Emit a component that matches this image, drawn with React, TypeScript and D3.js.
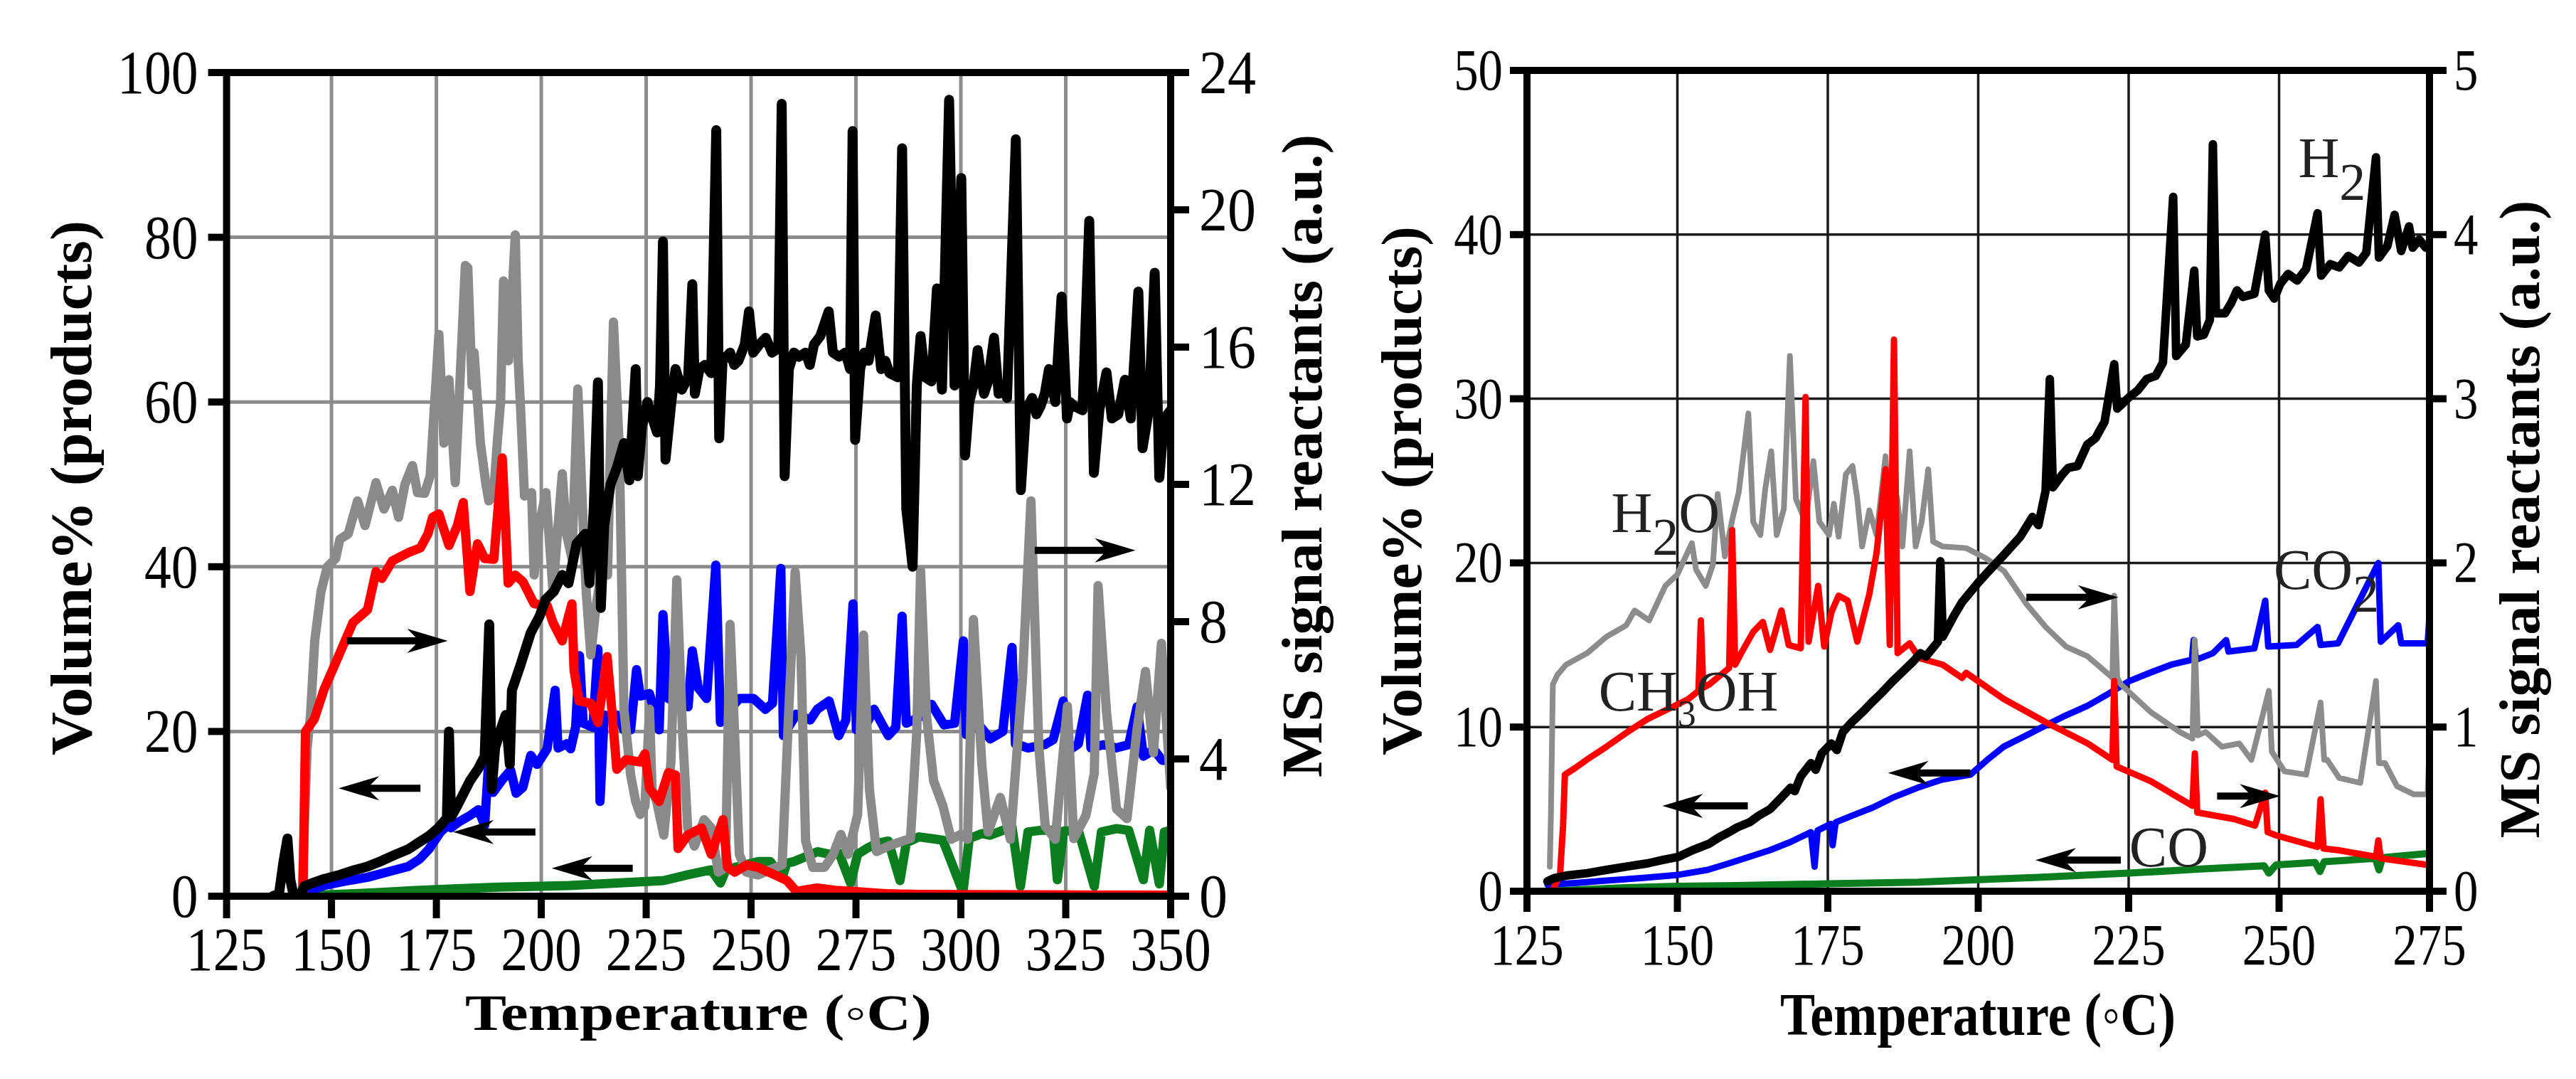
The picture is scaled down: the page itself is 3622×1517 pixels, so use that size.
import React from 'react';
import * as d3 from 'd3';

type Pt = [number, number];

// ---------------- LEFT PANEL DATA ----------------
const L_xTicks = [125, 150, 175, 200, 225, 250, 275, 300, 325, 350];
const L_yLeftTicks = [0, 20, 40, 60, 80, 100];
const L_yRightTicks = [0, 4, 8, 12, 16, 20, 24];
const L_gridX = [150, 175, 200, 225, 250, 275, 300, 325];
const L_gridY = [20, 40, 60, 80];

// black (left axis, vol%)
const L_black: Pt[] = [
  [136, 0], [137.5, 0.3], [138.5, 4], [139.5, 7], [140.2, 2], [141, 0], [142.5, 0], [143.5, 1.2], [146, 1.7],
  [148.3, 2.1], [152, 2.6], [155, 3.1], [158.6, 3.6], [162, 4.3], [165, 5], [168.3, 5.7], [171, 6.6], [173.2, 7.3],
  [175.5, 8.3], [177.5, 9.5], [178, 20], [178.5, 9.6], [180, 11], [183, 14], [185, 15.5], [186.5, 17], [187.6, 33],
  [188.2, 13], [189, 18], [190.5, 20.5], [191.5, 22], [192.5, 16], [193, 25], [195, 28], [197.5, 32], [199.6, 34],
  [201, 36], [203, 37], [205, 39], [206.5, 38], [208.4, 42.8], [210.5, 44], [211.5, 38], [212.5, 47], [213.5, 62.4],
  [214.2, 35], [215, 45], [216.5, 50], [218, 52], [219.7, 55], [221, 50.5], [222.5, 64], [223, 51], [224, 57],
  [225.3, 60], [226.5, 58], [227.6, 56.3], [228.3, 62], [229, 79.5], [229.6, 53], [230.2, 56], [231, 60], [232, 64],
  [233.5, 61.5], [235, 63], [236, 74.3], [236.6, 61], [237.7, 64], [239, 64.5], [240.5, 63.5], [241.7, 93],
  [242.4, 55.6], [243.2, 65], [245, 66], [246, 64.5], [247, 65], [248.5, 67], [249.5, 71], [250.5, 66], [252, 67],
  [253.5, 67.8], [255, 66], [256.5, 66.5], [257.3, 96.2], [258, 51], [259, 64], [260.2, 66], [261.4, 65.5], [263, 66],
  [264, 64.5], [265, 67], [266.5, 68], [268.5, 71], [269.5, 66], [271, 65.5], [272.5, 66], [273.6, 64], [274.2, 92.9],
  [274.8, 55.4], [276, 64], [277, 66], [278, 65], [279.7, 70.5], [281, 64], [282, 65], [283, 63.5], [285, 63],
  [286, 90.8], [287, 47], [288.5, 40], [289.5, 62], [290.4, 68], [291.5, 63], [293, 62.5], [294.3, 73.8], [295.5, 61.5],
  [297.2, 96.7], [298.5, 62], [300.1, 87.2], [301, 53.5], [302, 60], [303, 62], [304, 66.3], [305.5, 61], [306.5, 62.5],
  [307.9, 67.8], [309, 61], [310, 62], [311, 60.5], [313.1, 91.9], [314.3, 49.3], [315.5, 59], [317, 60.5], [318, 58.5],
  [319, 59.5], [320, 61], [321, 64], [322.5, 60], [324, 72.8], [325.3, 58], [326, 60], [327, 59.5], [329, 59],
  [330.6, 82], [331.7, 51.4], [333, 59], [334.7, 63.6], [336, 58], [337.5, 58.5], [339.1, 62.7], [340.5, 58],
  [342.3, 73.4], [343.3, 54.4], [344.8, 59], [346.2, 75.7], [347.3, 50.8], [348.5, 58], [350, 59],
];

// gray (right axis, a.u.)
const L_gray: Pt[] = [
  [143, 0], [143.5, 1.92], [144.2, 4.32], [145, 5.28], [146, 7.44], [147.5, 8.88], [149, 9.6], [151, 9.84], [152, 10.4],
  [154, 10.56], [156.2, 11.52], [158, 10.8], [160.6, 12.05], [162.5, 11.28], [164.5, 11.83], [166, 11.04], [167.5, 12],
  [169.3, 12.55], [170.5, 11.76], [172.2, 11.74], [173.5, 12.24], [175.6, 16.37], [176.8, 13.2], [178, 15.05],
  [179.5, 12.05], [181.9, 18.38], [182.5, 18.31], [183.5, 14.88], [184, 15.84], [185.5, 13.2], [186.8, 12],
  [187.5, 11.52], [188.6, 11.66], [189.5, 13.2], [190.3, 14.4], [191, 17.93], [192.2, 15.6], [193.8, 19.27],
  [194.5, 15.6], [195, 14.4], [196, 11.66], [197.7, 11.76], [198.3, 9.36], [199.5, 10.8], [201.1, 11.76], [202.8, 8.88],
  [204, 10.8], [205, 12.31], [206, 10.56], [207.3, 9.84], [208.7, 14.78], [210, 10.8], [210.7, 8.88], [211.8, 7.03],
  [213, 8.4], [214.5, 9.6], [215.8, 9.36], [216.5, 13.2], [217.2, 16.73], [218.6, 13.06], [219.7, 5.45], [221.3, 3.53],
  [222.5, 2.76], [223.6, 2.38], [224.7, 2.62], [225.8, 5.45], [226.4, 3.12], [227.5, 2.76], [229.2, 1.78], [230.9, 3.91],
  [232.3, 9.22], [233.7, 4.68], [234.9, 1.99], [236.5, 1.46], [238.8, 2.23], [240.5, 1.99], [242.2, 0.7], [243.9, 0.84],
  [245, 7.92], [246.1, 4.68], [247.2, 1.22], [248.9, 0.7], [251.7, 0.62], [254.6, 0.77], [257.4, 0.91], [259, 5.45],
  [260.5, 9.46], [261.9, 6.98], [263, 1.61], [264.7, 0.84], [267.5, 0.84], [269.5, 1.2], [271.4, 1.8], [273.1, 1.22],
  [275.4, 2.38], [276.8, 7.61], [278.2, 3.12], [279.9, 1.3], [282.7, 1.46], [285, 1.56], [288, 1.68], [289.5, 4.8],
  [290.4, 9.5], [291.8, 5.28], [293.5, 3.36], [295.7, 2.64], [297.7, 1.66], [300, 1.8], [301.6, 1.66], [303, 8.06],
  [305, 3.84], [306.5, 1.87], [309.4, 2.88], [311.8, 1.66], [314.7, 6.36], [316.7, 11.52], [318.6, 4.32], [320.1, 2.04],
  [322.5, 1.66], [325.4, 5.54], [326.9, 1.68], [329.8, 2.35], [331.8, 3.58], [332.7, 9.05], [334.7, 5.38], [337.1, 2.54],
  [339.6, 2.26], [342, 4.87], [344, 6.55], [345.9, 4.18], [347.8, 7.37], [350, 3.17],
];

// red (right axis, a.u.)
const L_red: Pt[] = [
  [143.2, 0], [143.8, 4.8], [145.9, 5.16], [148.3, 6.05], [151.2, 6.86], [155.1, 7.97], [158.6, 8.35], [160.6, 9.46],
  [162, 9.26], [164.5, 9.77], [168.3, 10.01], [171.2, 10.15], [173, 10.56], [174.1, 11.04], [175.6, 11.14], [178, 10.22],
  [180, 10.8], [181.4, 11.47], [183, 8.88], [184.8, 10.27], [186.5, 9.84], [188.7, 9.82], [190.7, 12.77], [191.5, 10.8],
  [192.1, 9.12], [193.8, 9.36], [195.6, 9.17], [198.3, 8.52], [201.4, 8.47], [202.8, 7.97], [205, 7.44], [206.5, 8.16],
  [207.3, 8.52], [207.8, 6.6], [209, 5.69], [211.8, 5.62], [213.5, 5.06], [215.7, 6.98], [216.8, 5.45], [218, 3.7],
  [220.2, 3.98], [223.6, 3.91], [224.7, 4.15], [225.8, 3.14], [228.1, 2.76], [230.3, 3.6], [232, 3.53], [232.6, 1.39],
  [234.9, 1.78], [238.2, 1.99], [240.5, 1.22], [243.3, 2.23], [244.4, 0.84], [246.1, 0.7], [248.9, 0.91], [251.7, 0.84],
  [255.7, 0.62], [258.5, 0.46], [260.8, 0.14], [265.8, 0.24], [270, 0.17], [274.3, 0.14], [282.7, 0.07], [290, 0.05],
  [350, 0.03],
];

// blue (left axis, vol%)
const L_blue: Pt[] = [
  [142.5, 0], [144, 0.5], [148.3, 1.3], [153, 1.8], [158.6, 2.3], [163, 2.9], [168.3, 3.6], [171, 4.5], [173.2, 5.7],
  [176, 7.8], [177.5, 8.5], [178, 12], [178.5, 8.3], [180, 8.9], [183, 9.8], [185, 10.5], [186.5, 8.6], [187.8, 19],
  [188.5, 12.6], [190.5, 14], [192.7, 15.3], [194, 12.5], [195.6, 13.2], [197.5, 17.1], [199, 16], [201.4, 17.9],
  [203.3, 25], [204, 18], [206, 18.5], [207, 17.9], [208.2, 20.6], [209.1, 29.2], [210, 21], [212.3, 20.5], [213.5, 30],
  [214, 11.5], [215, 22], [216.3, 21.8], [218, 22], [219.7, 20.2], [221.3, 20.2], [222.7, 27.5], [223.6, 24.3],
  [225.8, 24.6], [228.1, 20.2], [229, 34.2], [230.3, 24], [232.6, 23.4], [233.8, 24], [235, 23], [236, 29.8],
  [237.4, 25.3], [239.4, 24], [241.6, 40.2], [242.7, 21.1], [245, 22.7], [247.2, 24], [250.6, 24], [253.4, 22.7],
  [255.1, 23.4], [257.1, 39.8], [257.7, 19.5], [260.8, 22.1], [264.1, 21.4], [265.8, 22.7], [268.6, 23.7], [270.9, 19.5],
  [272.6, 21.4], [274.3, 35.5], [275.1, 20.2], [277.1, 20.5], [279.3, 22.7], [282.7, 19.5], [284.5, 20.5], [286, 34],
  [287, 21], [290, 21.7], [293, 23.3], [296, 20.8], [298.5, 21], [300.6, 31], [301.3, 19.6], [304, 21], [307, 19.1],
  [310, 20], [312.2, 30.2], [313, 18.5], [316, 18], [320, 18.4], [322, 19], [324.4, 23.7], [326, 17.8], [328, 18.5],
  [330.2, 24.4], [331, 18], [334, 18.4], [337, 18], [340, 18.4], [342, 23], [343.5, 17], [346, 17.8], [348, 16.5],
  [350, 16.5],
];

// green (left axis, vol%)
const L_green: Pt[] = [
  [142.5, 0], [150, 0.2], [160, 0.4], [170, 0.7], [180, 0.9], [190, 1.1], [200, 1.2], [206.7, 1.3], [218, 1.6],
  [229.2, 1.9], [234.9, 2.6], [240.5, 3.2], [242.7, 1.6], [244, 3.2], [246.1, 3.5], [251.7, 4.2], [254.6, 4.2],
  [257.4, 2.2], [258.5, 4], [260.2, 4.2], [263, 4.8], [265.8, 5.4], [268.6, 5.1], [271, 5.2], [273.7, 1.6], [275.4, 5.1],
  [277.6, 5.8], [279.9, 6.4], [282.7, 6.7], [285.5, 1.9], [287, 6.5], [290, 7.2], [293, 7], [295.7, 6.8], [300.5, 0.5],
  [302, 7], [305, 7.6], [307, 7.4], [310, 8], [312.2, 8.4], [314.2, 1.2], [316, 7.8], [319, 8], [322, 8], [323, 2],
  [324.5, 7.9], [328, 8], [331.8, 1.2], [333.5, 7.8], [337, 8.2], [340, 8], [343.5, 2], [345, 8], [347.3, 1.5],
  [348.5, 7.8], [350, 8],
];

// arrows: [fromT, toT, value on left axis]
const L_arrows: [number, number, number][] = [
  [153.7, 177.7, 31], [171.2, 151.7, 13.1], [198.6, 179, 7.8], [221.8, 202.5, 3.4], [317.6, 341.6, 42],
];

// ---------------- RIGHT PANEL DATA ----------------
const R_xTicks = [125, 150, 175, 200, 225, 250, 275];
const R_yLeftTicks = [0, 10, 20, 30, 40, 50];
const R_yRightTicks = [0, 1, 2, 3, 4, 5];
const R_gridX = [150, 175, 200, 225, 250];
const R_gridY = [10, 20, 30, 40];

// H2 black (left axis, vol%)
const R_black: Pt[] = [
  [128.4, 0.6], [129.5, 0.8], [131.5, 0.95], [135, 1.1], [138.2, 1.3], [141.5, 1.5], [145.1, 1.7], [147.5, 1.9],
  [150.2, 2.1], [152.5, 2.5], [155.3, 2.9], [157, 3.3], [158.6, 3.6], [160, 3.9], [162, 4.2], [163.5, 4.6], [165.4, 5],
  [167, 5.6], [168.8, 6.3], [169.5, 6.1], [170.5, 7], [172.2, 7.8], [173, 7.4], [174, 8.4], [175.6, 9], [176.5, 8.6],
  [177.5, 9.7], [179, 10.3], [181, 11], [182.3, 11.5], [184, 12.1], [185.8, 12.8], [187.5, 13.4], [189.2, 14],
  [190.4, 14.5], [191.3, 14.3], [193.3, 15.2], [193.7, 20.1], [194.1, 15.5], [196, 16.8], [197.3, 17.6], [200, 18.8],
  [202, 19.6], [204.3, 20.5], [207, 21.6], [209, 22.8], [210, 22.3], [211.2, 24.4], [211.9, 31.2], [212.4, 24.6],
  [214, 25.4], [215, 25.8], [216.5, 25.9], [218.1, 27.2], [219.5, 27.6], [221, 28.6], [222.6, 32.1], [223.1, 29.4],
  [225.1, 30.1], [226.5, 30.5], [228, 31.2], [229.5, 31.4], [230.7, 32.2], [232.4, 42.3], [232.9, 32.6], [234.5, 33.3],
  [235.9, 37.8], [236.4, 33.8], [237.5, 33.9], [238.5, 34.8], [239, 45.5], [239.5, 35.2], [241, 35.2], [242, 35.8],
  [243, 36.6], [244, 36.2], [245.9, 36.4], [247.7, 40], [248.3, 36.6], [249.2, 36.1], [250.2, 37], [251.5, 37.6],
  [253, 37.2], [254.5, 37.9], [256.4, 41.3], [257, 37.5], [258.5, 38.2], [260, 38], [261.5, 38.7], [263.3, 38.3],
  [264.5, 38.9], [266.1, 44.7], [266.6, 38.6], [268, 39.3], [269.2, 41.2], [270.3, 39], [271.6, 40.5], [272.2, 39.2],
  [273.3, 39.7], [274.4, 39.2], [275, 39.4],
];

// CO2 blue (left axis, vol%)
const R_blue: Pt[] = [
  [128.4, 0.4], [133, 0.5], [138.2, 0.65], [144, 0.8], [150.2, 1], [155, 1.3], [158.6, 1.7], [162, 2.1], [165.4, 2.5],
  [168.8, 3], [172.2, 3.6], [172.8, 1.5], [173.3, 3.7], [175.5, 4.1], [175.8, 2.8], [176.3, 4.2], [179, 4.6],
  [182.5, 5.1], [185.8, 5.7], [189.9, 6.3], [194, 6.8], [198.7, 7.1], [201.5, 8], [204.2, 8.8], [207.5, 9.4],
  [211.2, 10.1], [214.5, 10.7], [218.2, 11.3], [221.5, 12], [225.1, 12.8], [228.5, 13.3], [232.1, 13.8], [235.5, 14.1],
  [235.8, 15.3], [236.2, 14.1], [239, 14.5], [241.2, 15.3], [241.6, 14.6], [245.9, 14.8], [247.7, 17.7], [248.2, 14.9],
  [252.9, 15], [256.4, 16.1], [256.9, 15], [259.8, 15.1], [266.5, 20], [266.9, 15.2], [269.8, 16.2], [270.3, 15.1],
  [274.7, 15.1], [275, 16.8],
];

// CO green (left axis, vol%)
const R_green: Pt[] = [
  [128.4, 0], [140, 0.2], [150, 0.3], [160, 0.35], [175, 0.45], [190, 0.55], [200, 0.7], [210, 0.85], [225, 1.1],
  [237, 1.35], [247.5, 1.55], [248.3, 1.1], [249.5, 1.6], [256, 1.75], [256.8, 1.2], [257.5, 1.8], [266, 2],
  [266.6, 1.3], [267.2, 2.05], [274.7, 2.3], [275, 2.3],
];

// CH3OH red (right axis, a.u.)
const R_red: Pt[] = [
  [129.2, 0], [130.5, 0.1], [131, 0.4], [131.3, 0.71], [133, 0.75], [134.9, 0.8], [138.2, 0.88], [141.7, 0.97],
  [145.1, 1.05], [148.5, 1.11], [151.8, 1.17], [153.5, 1.22], [153.9, 1.65], [154.3, 1.24], [155.3, 1.26], [158.6, 1.36],
  [159.1, 2.2], [159.6, 1.38], [160.6, 1.45], [162.6, 1.58], [164.2, 1.64], [165.4, 1.47], [167.3, 1.71], [168.5, 1.5],
  [170.5, 1.48], [171.3, 3.01], [171.8, 1.52], [173.4, 1.86], [174.4, 1.49], [175.6, 1.7], [176.8, 1.8], [178.3, 1.77],
  [179.9, 1.52], [181.9, 1.81], [183.1, 2.06], [184.6, 2.57], [185.3, 1.5], [186, 3.36], [186.6, 1.45], [188.6, 1.51],
  [190.2, 1.42], [194.1, 1.38], [197.3, 1.3], [198, 1.33], [204.3, 1.17], [211.2, 1.03], [218.2, 0.9], [222.3, 0.8],
  [222.6, 1.28], [223, 0.76], [228.7, 0.67], [235.6, 0.52], [236, 0.84], [236.4, 0.48], [242.5, 0.44], [246, 0.4],
  [247.7, 0.6], [248.1, 0.36], [249.5, 0.34], [256.4, 0.27], [256.9, 0.56], [257.4, 0.26], [259.8, 0.25], [266.1, 0.21],
  [266.5, 0.31], [266.9, 0.2], [274.7, 0.16], [275, 0.16],
];

// H2O gray (right axis, a.u.)
const R_gray: Pt[] = [
  [128.8, 0.15], [129.0, 0.5], [129.3, 1.26], [130.1, 1.32], [131.5, 1.38], [135, 1.45], [138.2, 1.55], [141.5, 1.62],
  [142.9, 1.71], [145.3, 1.65], [148, 1.86], [150, 1.93], [152.4, 2.12], [153.1, 1.96], [154.7, 1.86], [155.9, 1.99],
  [156.7, 2.42], [157.9, 2.04], [159.1, 2.26], [160.2, 2.43], [161.8, 2.91], [162.6, 2.25], [163.8, 2.17], [164.6, 2.45],
  [165.6, 2.68], [166.5, 2.17], [167.7, 2.33], [168.7, 3.26], [169.7, 2.39], [171.3, 2.25], [172.6, 2.62], [173.6, 2.25],
  [175.2, 2.17], [176, 2.36], [176.8, 2.16], [178, 2.54], [179.1, 2.59], [179.9, 2.39], [180.7, 2.1], [181.9, 2.32],
  [183.1, 2.17], [184.6, 2.65], [185.4, 2.13], [186.5, 2.4], [187.4, 2.1], [188.6, 2.68], [189.6, 2.1], [190.6, 2.25],
  [191.7, 2.57], [192.5, 2.13], [194.1, 2.1], [198, 2.09], [201.2, 2.03], [204.3, 1.95], [208, 1.75], [211.2, 1.61],
  [214.6, 1.49], [218.2, 1.43], [221.7, 1.32], [222.3, 1.3], [222.6, 1.8], [223.1, 1.3], [223.7, 1.26], [228.7, 1.09],
  [233.5, 0.97], [235.6, 0.93], [236, 1.53], [236.5, 0.95], [237.8, 0.97], [240.5, 0.88], [243.4, 0.9], [245.4, 0.8],
  [248.3, 1.22], [248.8, 0.85], [250.9, 0.73], [254.5, 0.71], [256.9, 1.15], [257.5, 0.8], [258, 0.8], [260, 0.69],
  [263.5, 0.66], [266.1, 1.28], [266.6, 0.78], [267.6, 0.78], [269.6, 0.64], [272.4, 0.59], [274.7, 0.59], [275, 0.89],
];

const R_arrows: [number, number, number][] = [
  [161.7, 147.5, 5.2], [198.7, 185, 7.2], [208, 223.3, 17.9], [239.7, 250.2, 5.8], [223.7, 209.5, 1.9],
];

// labels: [main, sub, rest, T (left edge), V (baseline, left axis)]
const R_labels: [string, string, string, number, number][] = [
  ['H', '2', '', 253.2, 43.5],
  ['H', '2', 'O', 139, 21.9],
  ['CH', '3', 'OH', 136.9, 11],
  ['CO', '2', '', 249.1, 18.4],
  ['CO', '', '', 225.1, 1.5],
];

const X_TITLE = 'Temperature (\u25E6C)';
const Y_LEFT_TITLE = 'Volume% (products)';
const Y_RIGHT_TITLE = 'MS signal reactants (a.u.)';

const FONT = '"Liberation Serif", "Times New Roman", Times, serif';

function arrowPath(x1: number, x2: number, y: number) {
  const d = Math.sign(x2 - x1);
  const L = 57, H = 17, notch = 12, sh = 5;
  const bx = x2 - d * L;
  const nx = bx + d * notch;
  return `M${x1},${y - sh} L${nx},${y - sh} L${bx},${y - H} L${x2},${y} L${bx},${y + H} L${nx},${y + sh} L${x1},${y + sh} Z`;
}

type Series = { data: Pt[]; color: string; axis: 'L' | 'R'; width: number };

type PanelCfg = {
  id: string;
  xDomain: [number, number];
  xRange: [number, number];
  yLDomain: [number, number];
  yRDomain: [number, number];
  yRange: [number, number];
  xTicks: number[];
  yLTicks: number[];
  yRTicks: number[];
  gridX: number[];
  gridY: number[];
  gridColor: string;
  gridWidth: number;
  series: Series[];
  arrows: [number, number, number][];
  tickFont: number;
  tickSx: number;
  tickSxR: number;
  xLabelBase: number;
  tickLen: number;
  labelGap: number;
  baseOff: number;
  xTitle: { x: number; y: number; len: number; size: number };
  yLTitle: { x: number; y: number; len: number; size: number };
  yRTitle: { x: number; y: number; len: number; size: number };
};

function Panel({ c, labels }: { c: PanelCfg; labels?: [string, string, string, number, number][] }) {
  const x = d3.scaleLinear().domain(c.xDomain).range(c.xRange);
  const yL = d3.scaleLinear().domain(c.yLDomain).range(c.yRange);
  const yR = d3.scaleLinear().domain(c.yRDomain).range(c.yRange);
  const [x0, x1] = c.xRange;
  const [yb, yt] = c.yRange;
  const clipId = `clip-${c.id}`;
  return (
    <g>
      <defs>
        <clipPath id={clipId}>
          <rect x={x0} y={yt} width={x1 - x0} height={yb - yt} />
        </clipPath>
      </defs>
      {/* grid */}
      {c.gridX.map((t) => (
        <line key={`gx${t}`} x1={x(t)} x2={x(t)} y1={yt} y2={yb} stroke={c.gridColor} strokeWidth={c.gridWidth} />
      ))}
      {c.gridY.map((v) => (
        <line key={`gy${v}`} x1={x0} x2={x1} y1={yL(v)} y2={yL(v)} stroke={c.gridColor} strokeWidth={c.gridWidth} />
      ))}
      {/* series */}
      <g clipPath={`url(#${clipId})`}>
        {c.series.map((s, i) => {
          const ys = s.axis === 'L' ? yL : yR;
          const line = d3.line<Pt>().x((d) => x(d[0])).y((d) => ys(d[1]));
          return (
            <path key={i} d={line(s.data) || ''} fill="none" stroke={s.color} strokeWidth={s.width}
              strokeLinejoin="round" strokeLinecap="round" />
          );
        })}
      </g>
      {/* arrows */}
      {c.arrows.map((a, i) => (
        <path key={`a${i}`} d={arrowPath(x(a[0]), x(a[1]), yL(a[2]))} fill="#000" />
      ))}
      {/* labels */}
      {labels && labels.map((l, i) => (
        <text key={`l${i}`} x={x(l[3])} y={yL(l[4])} fontFamily={FONT} fontSize={80} fill="#222">
          {l[0]}
          {l[1] && (
            <tspan dy={l[1] === '3' ? 22 : 32} fontSize={l[1] === '3' ? 52 : 74}>{l[1]}</tspan>
          )}
          {l[2] && <tspan dy={l[1] === '3' ? -22 : -32}>{l[2]}</tspan>}
        </text>
      ))}
      {/* frame */}
      <rect x={x0} y={yt} width={x1 - x0} height={yb - yt} fill="none" stroke="#000" strokeWidth={10} />
      {/* x ticks */}
      {c.xTicks.map((t) => (
        <g key={`xt${t}`}>
          <line x1={x(t)} x2={x(t)} y1={yb} y2={yb + c.tickLen + 5} stroke="#000" strokeWidth={10} />
          <text transform={`translate(${x(t)},${c.xLabelBase}) scale(${c.tickSx},1)`} textAnchor="middle"
            fontFamily={FONT} fontSize={c.tickFont} fill="#000">{t}</text>
        </g>
      ))}
      {/* left y ticks */}
      {c.yLTicks.map((v) => (
        <g key={`yl${v}`}>
          <line x1={x0 - c.tickLen} x2={x0} y1={yL(v)} y2={yL(v)} stroke="#000" strokeWidth={10} />
          <text transform={`translate(${x0 - c.tickLen - c.labelGap},${yL(v) + c.baseOff}) scale(${c.tickSx},1)`}
            textAnchor="end" fontFamily={FONT} fontSize={c.tickFont} fill="#000">{v}</text>
        </g>
      ))}
      {/* right y ticks */}
      {c.yRTicks.map((v) => (
        <g key={`yr${v}`}>
          <line x1={x1} x2={x1 + c.tickLen} y1={yR(v)} y2={yR(v)} stroke="#000" strokeWidth={10} />
          <text transform={`translate(${x1 + c.tickLen + c.labelGap},${yR(v) + c.baseOff}) scale(${c.tickSxR},1)`}
            textAnchor="start" fontFamily={FONT} fontSize={c.tickFont} fill="#000">{v}</text>
        </g>
      ))}
      {/* titles */}
      <text x={c.xTitle.x} y={c.xTitle.y} textAnchor="middle" fontFamily={FONT} fontWeight="bold"
        fontSize={c.xTitle.size} textLength={c.xTitle.len} lengthAdjust="spacingAndGlyphs">
        {X_TITLE}
      </text>
      <text transform={`translate(${c.yLTitle.x},${c.yLTitle.y}) rotate(-90)`} textAnchor="middle"
        fontFamily={FONT} fontWeight="bold" fontSize={c.yLTitle.size} textLength={c.yLTitle.len}
        lengthAdjust="spacingAndGlyphs">
        {Y_LEFT_TITLE}
      </text>
      <text transform={`translate(${c.yRTitle.x},${c.yRTitle.y}) rotate(-90)`} textAnchor="middle"
        fontFamily={FONT} fontWeight="bold" fontSize={c.yRTitle.size} textLength={c.yRTitle.len}
        lengthAdjust="spacingAndGlyphs">
        {Y_RIGHT_TITLE}
      </text>
    </g>
  );
}

const leftCfg: PanelCfg = {
  id: 'left',
  xDomain: [125, 350],
  xRange: [318.6, 1646],
  yLDomain: [0, 100],
  yRDomain: [0, 24],
  yRange: [1260, 102],
  xTicks: L_xTicks,
  yLTicks: L_yLeftTicks,
  yRTicks: L_yRightTicks,
  gridX: L_gridX,
  gridY: L_gridY,
  gridColor: '#8c8c8c',
  gridWidth: 5,
  series: [
    { data: L_green, color: '#0a7d1e', axis: 'L', width: 13 },
    { data: L_blue, color: '#0000ff', axis: 'L', width: 13 },
    { data: L_gray, color: '#8a8a8a', axis: 'R', width: 13 },
    { data: L_red, color: '#ff0000', axis: 'R', width: 13 },
    { data: L_black, color: '#000000', axis: 'L', width: 14 },
  ],
  arrows: L_arrows,
  tickFont: 86,
  tickSx: 0.88,
  tickSxR: 0.93,
  xLabelBase: 1364,
  tickLen: 26,
  labelGap: 14,
  baseOff: 29,
  xTitle: { x: 982, y: 1448, len: 656, size: 72 },
  yLTitle: { x: 128, y: 686, len: 752, size: 82 },
  yRTitle: { x: 1858, y: 641, len: 904, size: 80 },
};

const rightCfg: PanelCfg = {
  id: 'right',
  xDomain: [125, 275],
  xRange: [2147, 3416],
  yLDomain: [0, 50],
  yRDomain: [0, 5],
  yRange: [1253, 99],
  xTicks: R_xTicks,
  yLTicks: R_yLeftTicks,
  yRTicks: R_yRightTicks,
  gridX: R_gridX,
  gridY: R_gridY,
  gridColor: '#1a1a1a',
  gridWidth: 3.5,
  series: [
    { data: R_green, color: '#0a7d1e', axis: 'L', width: 10 },
    { data: R_blue, color: '#0000ff', axis: 'L', width: 9 },
    { data: R_gray, color: '#8c8c8c', axis: 'R', width: 8 },
    { data: R_red, color: '#ff0000', axis: 'R', width: 9 },
    { data: R_black, color: '#000000', axis: 'L', width: 12 },
  ],
  arrows: R_arrows,
  tickFont: 82,
  tickSx: 0.84,
  tickSxR: 0.84,
  xLabelBase: 1356,
  tickLen: 24,
  labelGap: 10,
  baseOff: 27,
  xTitle: { x: 2781, y: 1455, len: 556, size: 84 },
  yLTitle: { x: 1998, y: 690, len: 744, size: 80 },
  yRTitle: { x: 3570, y: 730, len: 897, size: 80 },
};

export default function App() {
  return (
    <svg width={3622} height={1517} viewBox="0 0 3622 1517"
      style={{ position: 'absolute', left: 0, top: 0, display: 'block', background: '#fff' }}>
      <rect x={0} y={0} width={3622} height={1517} fill="#fff" />
      <Panel c={leftCfg} />
      <Panel c={rightCfg} labels={R_labels} />
    </svg>
  );
}
